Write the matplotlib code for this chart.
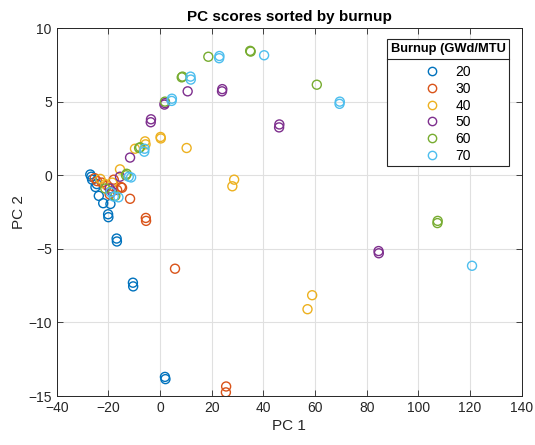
import matplotlib
matplotlib.use("Agg")
import matplotlib.pyplot as plt
from matplotlib.lines import Line2D

plt.rcParams['font.family'] = ['Liberation Sans', 'DejaVu Sans']

# PC1 / PC2 scores per burnup group (GWd/MTU)
pc1_20 = [-27.0, -26.6, -26.3, -25.0, -24.5, -23.7, -22.0, -19.2, -20.1, -20.0, -16.8, -16.7, -10.5, -10.4, 1.9, 2.1]
pc2_20 = [0.05, -0.1, -0.3, -0.8, -0.6, -1.4, -1.9, -1.95, -2.65, -2.85, -4.3, -4.5, -7.3, -7.55, -13.7, -13.85]

pc1_30 = [-25.3, -24.4, -22.5, -20.5, -19.5, -17.9, -16.6, -15.1, -14.7, -11.6, -5.5, -5.4, 5.8, 25.6, 25.5]
pc2_30 = [-0.2, -0.4, -0.5, -0.7, -1.3, -0.3, -1.0, -0.8, -0.85, -1.6, -2.9, -3.1, -6.35, -14.35, -14.75]

pc1_40 = [-23.1, -21.2, -18.5, -15.5, -9.7, -5.8, -5.6, 0.3, 0.2, 10.3, 28.7, 28.0, 58.9, 57.1]
pc2_40 = [-0.25, -0.6, -0.5, 0.4, 1.8, 2.3, 2.1, 2.5, 2.6, 1.85, -0.3, -0.75, -8.15, -9.1]

pc1_50 = [-19.5, -18.6, -15.5, -11.6, -3.6, -3.5, 1.9, 1.7, 10.7, 24.0, 24.1, 46.1, 46.2, 84.6, 84.7]
pc2_50 = [-0.9, -1.1, -0.1, 1.2, 3.6, 3.8, 4.9, 4.8, 5.7, 5.7, 5.85, 3.25, 3.45, -5.15, -5.3]

pc1_60 = [-21.2, -17.3, -13.2, -12.9, -8.1, -7.7, 1.9, 8.4, 8.7, 18.7, 34.9, 35.1, 60.7, 107.5, 107.4]
pc2_60 = [-0.9, -1.4, 0.0, 0.1, 1.85, 1.9, 5.0, 6.65, 6.7, 8.05, 8.45, 8.4, 6.15, -3.1, -3.25]

pc1_70 = [-19.2, -17.9, -16.1, -12.1, -11.2, -6.1, -6.0, 4.5, 4.6, 11.9, 11.8, 22.9, 23.0, 40.3, 69.5, 69.6, 120.8]
pc2_70 = [-1.15, -1.45, -1.5, -0.1, -0.15, 1.6, 1.8, 5.05, 5.2, 6.5, 6.7, 7.95, 8.1, 8.15, 4.85, 5.0, -6.15]

burnups = ['20', '30', '40', '50', '60', '70']
colors = ['#0072BD', '#D95319', '#EDB120', '#7E2F8E', '#77AC30', '#4DBEEE']

groups = [(pc1_20, pc2_20), (pc1_30, pc2_30), (pc1_40, pc2_40),
          (pc1_50, pc2_50), (pc1_60, pc2_60), (pc1_70, pc2_70)]

fig = plt.figure(figsize=(5.35, 4.45), dpi=100)
ax = fig.add_axes([0.106, 0.110, 0.869, 0.827])

for (x, y), c in zip(groups, colors):
    ax.scatter(x, y, s=42, facecolors='none', edgecolors=c, linewidths=1.0, zorder=3)

ax.set_xlim(-40, 140)
ax.set_ylim(-15, 10)
ax.set_xticks(range(-40, 141, 20))
ax.set_yticks(range(-15, 11, 5))
ax.grid(True, color='#e0e0e0', linewidth=0.8)
ax.set_axisbelow(True)
ax.tick_params(direction='in', length=4, width=0.6, colors='#262626',
               labelsize=10, top=True, right=True)
for sp in ax.spines.values():
    sp.set_color('#262626')
    sp.set_linewidth(0.7)

ax.set_title('PC scores sorted by burnup', fontsize=11, fontweight='bold', pad=5)
ax.set_xlabel('PC 1', fontsize=11, color='#262626', labelpad=3)
ax.set_ylabel('PC 2', fontsize=11, color='#262626', labelpad=2)

handles = [Line2D([], [], linestyle='none', marker='o', markersize=6,
                  markerfacecolor='none', markeredgecolor=c, markeredgewidth=1.0)
           for c in colors]
leg = ax.legend(handles, burnups, title='Burnup (GWd/MTU', loc='upper right',
                bbox_to_anchor=(0.973, 0.970), borderaxespad=0, fontsize=10,
                fancybox=False, framealpha=1, edgecolor='#262626',
                handlelength=1.0, handletextpad=1.2, labelspacing=0.2,
                borderpad=0.25)
leg.get_title().set_fontweight('bold')
leg.get_title().set_fontsize(9.3)
leg.get_frame().set_linewidth(0.8)
# more room between the title and the entries
leg._legend_box.sep = 7.5

# line under the legend title
fig.canvas.draw()
r = fig.canvas.get_renderer()
fb = leg.get_frame().get_window_extent(r)
tb = leg.get_title().get_window_extent(r)
ly = (tb.y0 - 4) / fig.bbox.height
fig.add_artist(Line2D([fb.x0 / fig.bbox.width, fb.x1 / fig.bbox.width], [ly, ly],
                      color='#262626', linewidth=0.8))

fig.savefig('out.png', dpi=100)
